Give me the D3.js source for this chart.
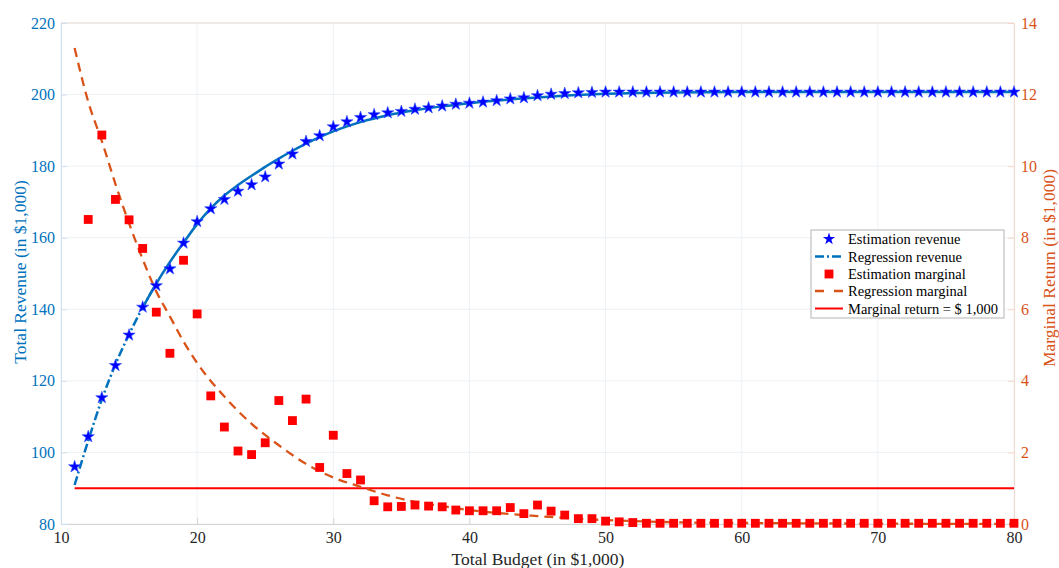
<!DOCTYPE html>
<html>
<head>
<meta charset="utf-8">
<script src="https://cdn.jsdelivr.net/npm/d3@7"></script>
<style>
  html, body { margin: 0; padding: 0; background: #fff; }
  svg { display: block; font-family: "Liberation Serif", "Times New Roman", serif; }
  svg text { font-family: "Liberation Serif", "Times New Roman", serif; }
</style>
</head>
<body>
<svg id="chart" width="1059" height="568"></svg>
<script>
// ---------- data ----------
const revenueBudget = d3.range(11, 81);
const revenueEstimate = [
  96.0, 104.4, 115.3, 124.3, 132.8, 140.6, 146.6, 151.3, 158.5, 164.5,
  168.1, 170.7, 173.0, 174.8, 177.0, 180.6, 183.4, 186.9, 188.5, 191.0,
  192.4, 193.6, 194.4, 194.9, 195.3, 195.9, 196.3, 196.8, 197.3, 197.6,
  197.9, 198.3, 198.8, 199.1, 199.7, 200.1, 200.3, 200.5, 200.6, 200.7,
  200.7, 200.7, 200.7, 200.7, 200.7, 200.7, 200.7, 200.7, 200.7, 200.7,
  200.7, 200.7, 200.7, 200.7, 200.7, 200.7, 200.7, 200.7, 200.7, 200.7,
  200.7, 200.7, 200.7, 200.7, 200.7, 200.7, 200.7, 200.7, 200.7, 200.7
];
const marginalBudget = d3.range(12, 81);
const marginalEstimate = [
  8.51, 10.87, 9.07, 8.50, 7.70, 5.92, 4.77, 7.37, 5.87, 3.58,
  2.71, 2.04, 1.94, 2.27, 3.45, 2.89, 3.49, 1.58, 2.48, 1.41,
  1.23, 0.65, 0.48, 0.49, 0.53, 0.50, 0.48, 0.39, 0.37, 0.37,
  0.37, 0.46, 0.29, 0.53, 0.36, 0.25, 0.15, 0.15, 0.08, 0.06,
  0.04, 0.02, 0.02, 0.02, 0.02, 0.02, 0.02, 0.02, 0.02, 0.02,
  0.02, 0.02, 0.02, 0.02, 0.02, 0.02, 0.02, 0.02, 0.02, 0.02,
  0.02, 0.02, 0.02, 0.02, 0.02, 0.02, 0.02, 0.02, 0.02
];
const regRevenueX = [11, 12, 13, 14, 15, 16, 17, 18, 19, 20, 21, 22, 23, 24, 25, 26, 27, 28, 29, 30, 31, 32, 34, 36, 38, 40, 45, 50, 55, 60, 70, 80];
const regRevenueY = [90.9, 103.3, 114.8, 124.6, 133.0, 140.5, 147.2, 153.2, 158.6, 163.8, 168.2, 171.8, 174.7, 177.3, 179.8, 182.1, 184.3, 186.3, 188.1, 189.7, 191.1, 192.3, 194.2, 195.6, 196.7, 197.6, 199.2, 200.2, 200.6, 200.7, 200.7, 200.7];
const regMarginalX = [11, 12, 13, 14, 15, 16, 17, 18, 19, 20, 22, 24, 26, 28, 30, 32, 34, 36, 38, 40, 45, 50, 55, 60, 70, 80];
const regMarginalY = [13.3, 11.8, 10.7, 9.5, 8.4, 7.4, 6.5, 5.8, 5.1, 4.5, 3.56, 2.8, 2.2, 1.68, 1.3, 1.04, 0.8, 0.62, 0.5, 0.39, 0.22, 0.11, 0.05, 0.03, 0.01, 0.0];
const thresholdX = [11, 80];
const thresholdY = [1, 1];

const xTicks = [10, 20, 30, 40, 50, 60, 70, 80];
const yLeftTicks = [80, 100, 120, 140, 160, 180, 200, 220];
const yRightTicks = [0, 2, 4, 6, 8, 10, 12, 14];
const legendLabels = ["Estimation revenue", "Regression revenue", "Estimation marginal", "Regression marginal", "Marginal return = $ 1,000"];

// ---------- layout ----------
const L = 61, R = 1014, T = 23, B = 524;
const BLUE = "#0072BD", ORANGE = "#D95319";
const SERIF = "Liberation Serif";

const svg = d3.select("#chart");
const x = d3.scaleLinear().domain([10, 80]).range([L, R]);
const yL = d3.scaleLinear().domain([80, 220]).range([B, T]);
const yR = d3.scaleLinear().domain([0, 14]).range([B, T]);

// grid
const grid = svg.append("g");
grid.selectAll("line.gx").data(xTicks).join("line")
  .attr("x1", d => x(d)).attr("x2", d => x(d)).attr("y1", T).attr("y2", B)
  .attr("stroke", "#eef1f4").attr("stroke-width", 1);
grid.selectAll("line.gy").data(yLeftTicks).join("line")
  .attr("x1", L).attr("x2", R).attr("y1", d => yL(d)).attr("y2", d => yL(d))
  .attr("stroke", "#eef1f4").attr("stroke-width", 1);

// axes
const fontSize = "16px";
const gx = svg.append("g").attr("transform", `translate(0,${B})`)
  .call(d3.axisBottom(x).tickValues(xTicks).tickSize(-6).tickPadding(8).tickFormat(d3.format("d")))
  .attr("font-family", SERIF).attr("font-size", 16);
gx.select(".domain").attr("stroke", "#d4d4d4");
gx.selectAll(".tick line").attr("stroke", "#d4d4d4");
gx.selectAll("text").attr("fill", "#262626");

svg.append("line").attr("x1", L).attr("x2", R).attr("y1", T).attr("y2", T).attr("stroke", "#e6dcd7");

const gyl = svg.append("g").attr("transform", `translate(${L},0)`)
  .call(d3.axisLeft(yL).tickValues(yLeftTicks).tickSize(-6).tickPadding(6).tickFormat(d3.format("d")))
  .attr("font-family", SERIF).attr("font-size", 16);
gyl.select(".domain").attr("stroke", "#cfe0ee");
gyl.selectAll(".tick line").attr("stroke", "#cfe0ee");
gyl.selectAll("text").attr("fill", BLUE);

const gyr = svg.append("g").attr("transform", `translate(${R},0)`)
  .call(d3.axisRight(yR).tickValues(yRightTicks).tickSize(-6).tickPadding(7).tickFormat(d3.format("d")))
  .attr("font-family", SERIF).attr("font-size", 16);
gyr.select(".domain").attr("stroke", "#f4d8cb");
gyr.selectAll(".tick line").attr("stroke", "#f4d8cb");
gyr.selectAll("text").attr("fill", ORANGE);

// titles
svg.append("text").attr("x", 538).attr("y", 565).attr("text-anchor", "middle")
  .attr("fill", "#262626").style("font-size", "17.5px").text("Total Budget (in $1,000)");
svg.append("text").attr("transform", "translate(26,272) rotate(-90)").attr("text-anchor", "middle")
  .attr("fill", BLUE).style("font-size", "17.5px").text("Total Revenue (in $1,000)");
svg.append("text").attr("transform", "translate(1055,268) rotate(-90)").attr("text-anchor", "middle")
  .attr("fill", ORANGE).style("font-size", "17.5px").text("Marginal Return (in $1,000)");

// ---------- marks ----------
const regRev = regRevenueX.map((v, i) => [v, regRevenueY[i]]);
const regMar = regMarginalX.map((v, i) => [v, regMarginalY[i]]);

const lineL = d3.line().x(d => x(d[0])).y(d => yL(d[1])).curve(d3.curveMonotoneX);
const lineR = d3.line().x(d => x(d[0])).y(d => yR(d[1])).curve(d3.curveMonotoneX);

// threshold line
svg.append("path")
  .attr("d", lineR(thresholdX.map((v, i) => [v, thresholdY[i]])))
  .attr("fill", "none").attr("stroke", "#FF0000").attr("stroke-width", 2);

// regression marginal (dashed)
svg.append("path").attr("d", lineR(regMar))
  .attr("fill", "none").attr("stroke", ORANGE).attr("stroke-width", 2.3)
  .attr("stroke-dasharray", "9,6");

// regression revenue: dash-dot in steep part, appears solid afterwards
svg.append("path").attr("d", lineL(regRev.filter(d => d[0] <= 17)))
  .attr("fill", "none").attr("stroke", BLUE).attr("stroke-width", 2.5)
  .attr("stroke-dasharray", "9,3,2,3");
svg.append("path").attr("d", lineL(regRev.filter(d => d[0] >= 16)))
  .attr("fill", "none").attr("stroke", BLUE).attr("stroke-width", 2.5);

// estimation marginal squares
const sq = d3.symbol().type(d3.symbolSquare).size(78);
svg.append("g").selectAll("path").data(marginalBudget).join("path")
  .attr("d", sq)
  .attr("transform", (d, i) => `translate(${x(d)},${yR(marginalEstimate[i])})`)
  .attr("fill", "#FF0000");

// estimation revenue stars
const star = d3.symbol().type(d3.symbolStar).size(46);
svg.append("g").selectAll("path").data(revenueBudget).join("path")
  .attr("d", star)
  .attr("transform", (d, i) => `translate(${x(d)},${yL(revenueEstimate[i])})`)
  .attr("fill", "#0000FF").attr("stroke", "#2a4cff").attr("stroke-width", 0.6);

// ---------- legend ----------
const lg = svg.append("g");
lg.append("rect").attr("x", 811).attr("y", 230).attr("width", 193).attr("height", 88)
  .attr("fill", "#fff").attr("stroke", "#b4b4b4").attr("stroke-width", 1);
const rowY = [239, 256.5, 274, 291, 308.5];
const sx0 = 815, sx1 = 843, sxc = 829;
lg.append("path").attr("d", d3.symbol().type(d3.symbolStar).size(46)())
  .attr("transform", `translate(${sxc},${rowY[0]})`).attr("fill", "#0000FF");
lg.append("line").attr("x1", sx0).attr("x2", sx1).attr("y1", rowY[1]).attr("y2", rowY[1])
  .attr("stroke", BLUE).attr("stroke-width", 2.5).attr("stroke-dasharray", "9,3,2,3");
lg.append("path").attr("d", d3.symbol().type(d3.symbolSquare).size(78)())
  .attr("transform", `translate(${sxc},${rowY[2]})`).attr("fill", "#FF0000");
lg.append("line").attr("x1", sx0).attr("x2", sx1).attr("y1", rowY[3]).attr("y2", rowY[3])
  .attr("stroke", ORANGE).attr("stroke-width", 2.3).attr("stroke-dasharray", "9,10");
lg.append("line").attr("x1", sx0).attr("x2", sx1).attr("y1", rowY[4]).attr("y2", rowY[4])
  .attr("stroke", "#FF0000").attr("stroke-width", 2);
lg.selectAll("text").data(legendLabels).join("text")
  .attr("x", 848).attr("y", (d, i) => rowY[i] + 5)
  .attr("fill", "#000").style("font-size", "14.5px").text(d => d);
</script>
</body>
</html>
